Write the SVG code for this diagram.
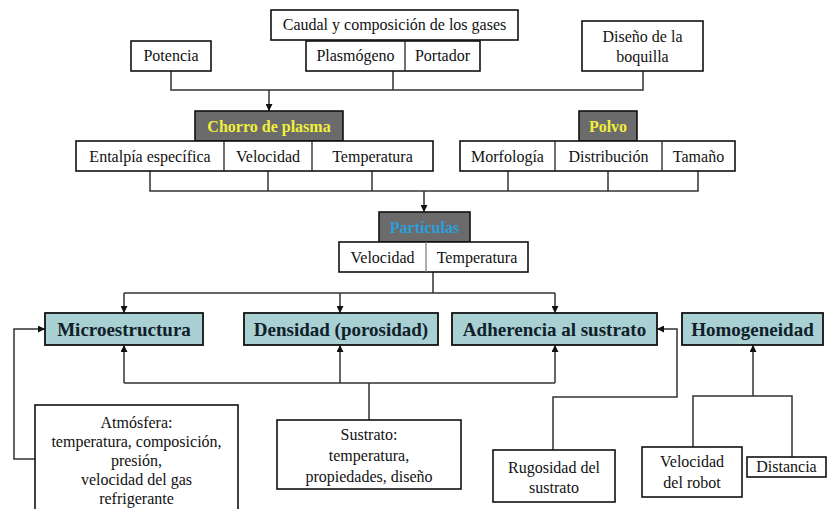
<svg xmlns="http://www.w3.org/2000/svg" width="827" height="509" viewBox="0 0 827 509" font-family="'Liberation Serif', 'DejaVu Serif', serif">
<defs>
<style>
.b{fill:#fff;stroke:#111;stroke-width:1.6}
.g{fill:#6b6b6b;stroke:#111;stroke-width:1.6}
.t{fill:#a9d0d2;stroke:#111;stroke-width:1.8}
.d{stroke:#222;stroke-width:1.3}
text{font-family:'Liberation Serif','DejaVu Serif',serif;text-anchor:middle}
.n{font-size:16px;fill:#111}
.y{font-size:16px;font-weight:bold;fill:#f2ef3c}
.c{font-size:16px;font-weight:bold;fill:#2b9fdc}
.h{font-size:19px;font-weight:bold;fill:#10202a}
.l{fill:none;stroke:#333;stroke-width:1.5}
.a{marker-end:url(#ar)}
</style>
<marker id="ar" viewBox="0 0 10 10" refX="10" refY="5" markerWidth="7" markerHeight="7" markerUnits="userSpaceOnUse" orient="auto">
<path d="M0,0L10,5L0,10z" fill="#111"/>
</marker>
</defs>
<rect width="827" height="509" fill="#fff"/>
<g id="connectors">
<path class="l" d="M171,71V90H643V71M393,71V90"/>
<path class="l a" d="M269,90V111"/>
<path class="l" d="M150,171V191H698V171M268,171V191M372,171V191M508,171V191M608,171V191"/>
<path class="l a" d="M424,191V212"/>
<path class="l" d="M433,272V293M124,293H555"/>
<path class="l a" d="M124,293V313"/>
<path class="l a" d="M340,293V313"/>
<path class="l a" d="M555,293V313"/>
<path class="l" d="M369,420V383M124,383H555"/>
<path class="l a" d="M124,383V345"/>
<path class="l a" d="M340,383V345"/>
<path class="l a" d="M555,383V345"/>
<path class="l a" d="M35,459H14V329H45"/>
<path class="l a" d="M553,450V397H677V329H657"/>
<path class="l" d="M693,447V396H792V457"/>
<path class="l a" d="M753,396V345"/>
</g>
<g id="caudal"><rect class="b" x="271" y="10" width="247" height="30"/><text class="n" x="394.5" y="30">Caudal y composición de los gases</text></g>
<g id="potencia"><rect class="b" x="131" y="41" width="80" height="30"/><text class="n" x="171" y="61">Potencia</text></g>
<g id="gases"><rect class="b" x="306" y="41" width="174" height="30"/><line class="d" x1="405" y1="41" x2="405" y2="71"/><text class="n" x="355.5" y="61">Plasmógeno</text><text class="n" x="442.5" y="61">Portador</text></g>
<g id="boquilla"><rect class="b" x="582" y="21" width="121" height="50"/><text class="n" x="642.5" y="42">Diseño de la</text><text class="n" x="642.5" y="62">boquilla</text></g>
<g id="chorro"><rect class="g" x="195" y="111" width="148" height="30"/><text class="y" x="269" y="132">Chorro de plasma</text></g>
<g id="chorro-props"><rect class="b" x="76" y="141" width="357" height="30"/><line class="d" x1="224" y1="141" x2="224" y2="171"/><line class="d" x1="312" y1="141" x2="312" y2="171"/><text class="n" x="150" y="162">Entalpía específica</text><text class="n" x="268" y="162">Velocidad</text><text class="n" x="372.5" y="162">Temperatura</text></g>
<g id="polvo"><rect class="g" x="579" y="111" width="58" height="30"/><text class="y" x="608" y="132">Polvo</text></g>
<g id="polvo-props"><rect class="b" x="460" y="141" width="275" height="30"/><line class="d" x1="555" y1="141" x2="555" y2="171"/><line class="d" x1="662" y1="141" x2="662" y2="171"/><text class="n" x="507.5" y="162">Morfología</text><text class="n" x="608.5" y="162">Distribución</text><text class="n" x="698.5" y="162">Tamaño</text></g>
<g id="particulas"><rect class="g" x="379" y="212" width="91" height="30"/><text class="c" x="424.5" y="233">Partículas</text></g>
<g id="particulas-props"><rect class="b" x="339" y="242" width="189" height="30"/><line x1="426" y1="242" x2="426" y2="272" stroke="#777" stroke-width="1.2"/><text class="n" x="382.5" y="263">Velocidad</text><text class="n" x="477" y="263">Temperatura</text></g>
<g id="microestructura"><rect class="t" x="45" y="313" width="158" height="32"/><text class="h" x="124" y="336">Microestructura</text></g>
<g id="densidad"><rect class="t" x="244" y="313" width="194" height="32"/><text class="h" x="341" y="336">Densidad (porosidad)</text></g>
<g id="adherencia"><rect class="t" x="452" y="313" width="205" height="32"/><text class="h" x="554.5" y="336">Adherencia al sustrato</text></g>
<g id="homogeneidad"><rect class="t" x="682" y="313" width="141" height="32"/><text class="h" x="752.5" y="336">Homogeneidad</text></g>
<g id="atmosfera"><rect class="b" x="35" y="405" width="203" height="110"/><text class="n" x="136.5" y="428">Atmósfera:</text><text class="n" x="136.5" y="447">temperatura, composición,</text><text class="n" x="136.5" y="466">presión,</text><text class="n" x="136.5" y="485">velocidad del gas</text><text class="n" x="136.5" y="504">refrigerante</text></g>
<g id="sustrato"><rect class="b" x="277" y="420" width="184" height="69"/><text class="n" x="369" y="440">Sustrato:</text><text class="n" x="369" y="461">temperatura,</text><text class="n" x="369" y="482">propiedades, diseño</text></g>
<g id="rugosidad"><rect class="b" x="493" y="450" width="122" height="52"/><text class="n" x="554" y="473">Rugosidad del</text><text class="n" x="554" y="493">sustrato</text></g>
<g id="robot"><rect class="b" x="642" y="447" width="100" height="50"/><text class="n" x="692" y="467">Velocidad</text><text class="n" x="692" y="488">del robot</text></g>
<g id="distancia"><rect class="b" x="747" y="457" width="79" height="20"/><text class="n" x="786.5" y="472">Distancia</text></g>
</svg>
